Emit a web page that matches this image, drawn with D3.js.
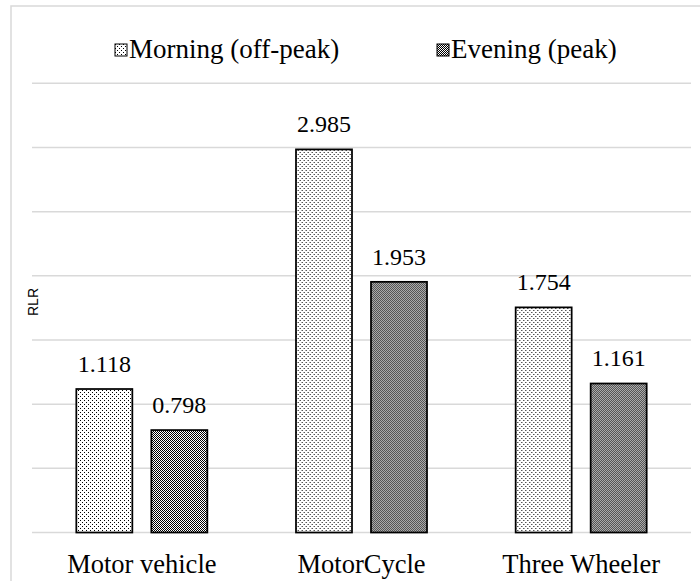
<!DOCTYPE html>
<html><head><meta charset="utf-8">
<script src="https://cdn.jsdelivr.net/npm/d3@7"></script>
<style>
body{margin:0;background:#fff}
svg text{font-family:"Liberation Serif","Times New Roman",Times;}
svg text.sans{font-family:"Liberation Sans",Arial;}
</style>
</head><body>
<svg id="c" width="700" height="581" font-family="Liberation Serif"></svg>
<script>
const categories = ["Motor vehicle", "MotorCycle", "Three Wheeler"];
const seriesNames = ["Morning (off-peak)", "Evening (peak)"];
const morning = [1.118, 2.985, 1.754];
const evening = [0.798, 1.953, 1.161];
const yTicks = [0, 0.5, 1, 1.5, 2, 2.5, 3, 3.5];

const svg = d3.select("#c");
const defs = svg.append("defs");
// light dotted pattern
const p1 = defs.append("pattern").attr("id","pMorning").attr("patternUnits","userSpaceOnUse").attr("width",4).attr("height",4);
p1.append("rect").attr("width",4).attr("height",4).attr("fill","#fff");
p1.append("rect").attr("x",0).attr("y",0).attr("width",1).attr("height",1).attr("fill","#000");
p1.append("rect").attr("x",2).attr("y",2).attr("width",1).attr("height",1).attr("fill","#000");
// dark checker pattern
const p2 = defs.append("pattern").attr("id","pEvening").attr("patternUnits","userSpaceOnUse").attr("width",2).attr("height",2);
p2.append("rect").attr("width",2).attr("height",2).attr("fill","#fff");
p2.append("rect").attr("x",0).attr("y",0).attr("width",1).attr("height",1).attr("fill","#000");
p2.append("rect").attr("x",1).attr("y",1).attr("width",1).attr("height",1).attr("fill","#000");

const fills = ["url(#pMorning)", "url(#pEvening)"];

// outer border
svg.append("rect").attr("x",11).attr("y",6).attr("width",720).attr("height",600)
  .attr("fill","none").attr("stroke","#d9d9d9").attr("stroke-width",1.5);

const y = d3.scaleLinear().domain([0, 3.5]).range([532.5, 83.3]);
const x0 = d3.scaleBand().domain(categories).range([32, 691]).padding(0);
const x1 = d3.scaleBand().domain(seriesNames).range([0, x0.bandwidth()]).paddingInner(0.2533).paddingOuter(0.591);

// gridlines
svg.append("g").selectAll("line").data(yTicks).join("line")
  .attr("x1",32).attr("x2",691).attr("y1",d=>y(d)).attr("y2",d=>y(d))
  .attr("stroke","#d9d9d9").attr("stroke-width",1.5);

const data = categories.map((c,i)=>({cat:c, vals:[morning[i], evening[i]]}));

const g = svg.append("g").selectAll("g").data(data).join("g")
  .attr("transform", d=>`translate(${x0(d.cat)},0)`);
g.selectAll("rect").data(d=>d.vals.map((v,j)=>({s:seriesNames[j], v, j}))).join("rect")
  .attr("x", d=>x1(d.s)).attr("width", x1.bandwidth())
  .attr("y", d=>y(d.v)).attr("height", d=>y(0)-y(d.v))
  .attr("fill", d=>fills[d.j]).attr("stroke","#000").attr("stroke-width",1.75);
g.selectAll("text").data(d=>d.vals.map((v,j)=>({s:seriesNames[j], v, j}))).join("text")
  .attr("x", d=>x1(d.s)+x1.bandwidth()/2).attr("y", d=>y(d.v)-17)
  .attr("text-anchor","middle")
  .style("font-size","24px").attr("fill","#000").text(d=>d3.format(".3f")(d.v));

// category axis labels
svg.append("g").selectAll("text").data(categories).join("text")
  .attr("x", d=>x0(d)+x0.bandwidth()/2).attr("y",573)
  .attr("text-anchor","middle")
  .style("font-size","26.5px").attr("fill","#000").text(d=>d);

// y axis title
svg.append("text").attr("class","sans").attr("transform","translate(38,302) rotate(-90)")
  .attr("text-anchor","middle")
  .style("font-size","14px").attr("fill","#000").text("RLR");

// legend
const legX = [115, 437];
const lg = svg.append("g").selectAll("g").data(seriesNames).join("g")
  .attr("transform",(d,i)=>`translate(${legX[i]},0)`);
lg.append("rect").attr("x",0).attr("y",44).attr("width",12).attr("height",12)
  .attr("fill",(d,i)=>fills[i]).attr("stroke","#000").attr("stroke-width",1);
lg.append("text").attr("x",14).attr("y",58)
  .style("font-size","27px").attr("fill","#000").text(d=>d);
</script>
</body></html>
